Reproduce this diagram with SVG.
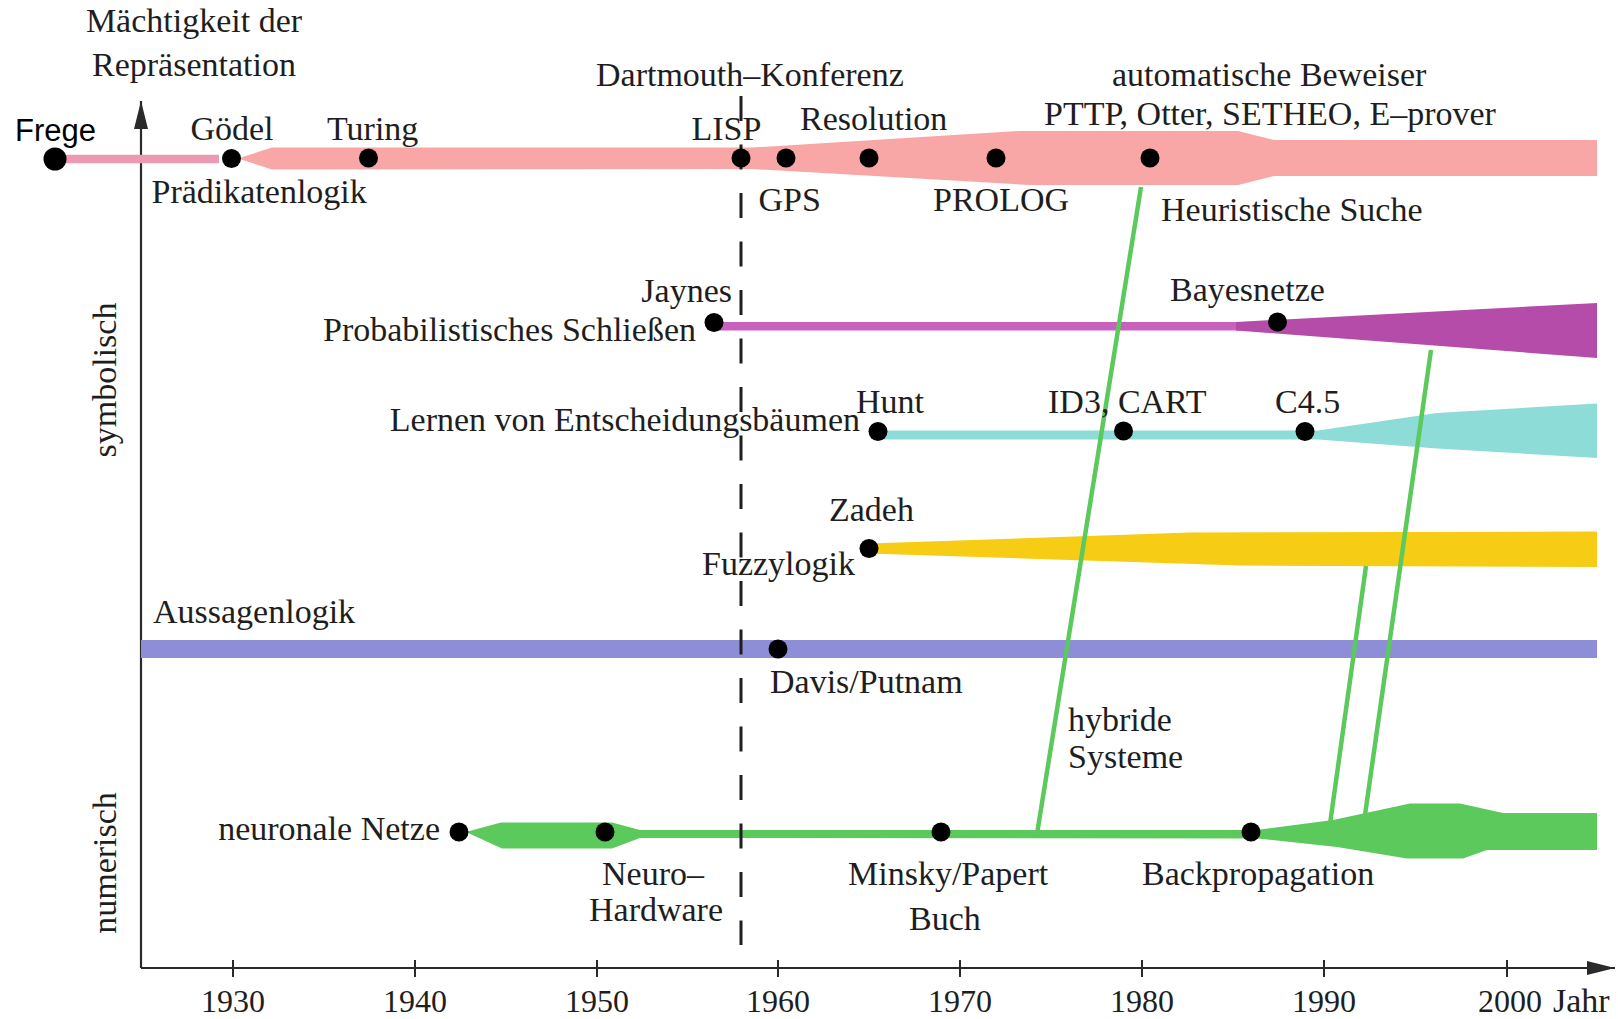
<svg xmlns="http://www.w3.org/2000/svg" width="1618" height="1019" viewBox="0 0 1618 1019">
<defs>
<marker id="arrow" markerUnits="userSpaceOnUse" markerWidth="28" markerHeight="14" refX="28" refY="7" orient="auto">
<path d="M0,0 L28,7 L0,14 Z" fill="#2a2a2a"/>
</marker>
<style>
text{font-family:"Liberation Serif","Times New Roman",serif;font-size:34px;fill:#1e1e1e}
.sans{font-family:"Liberation Sans",Arial,sans-serif;font-size:31px;fill:#000}
.yr{font-size:32px;text-anchor:middle}
.end{text-anchor:end}
.mid{text-anchor:middle}
.dot{fill:#000}
.axis{stroke:#2a2a2a;stroke-width:2.2;fill:none}
.tick{stroke:#2a2a2a;stroke-width:2}
.hyb{stroke:#5cc95c;stroke-width:4.5;fill:none}
.dash{stroke:#1e1e1e;stroke-width:3;stroke-dasharray:25 23.5;fill:none}
</style>
</defs>
<rect width="1618" height="1019" fill="#fff"/>

<g id="axes">
<line class="axis" x1="141" y1="968" x2="141" y2="101" marker-end="url(#arrow)"/>
<line class="axis" x1="141" y1="968" x2="1615" y2="968" marker-end="url(#arrow)"/>
<g class="ticks">
<line class="tick" x1="233" y1="960" x2="233" y2="977"/>
<line class="tick" x1="415" y1="960" x2="415" y2="977"/>
<line class="tick" x1="597" y1="960" x2="597" y2="977"/>
<line class="tick" x1="778" y1="960" x2="778" y2="977"/>
<line class="tick" x1="960" y1="960" x2="960" y2="977"/>
<line class="tick" x1="1142" y1="960" x2="1142" y2="977"/>
<line class="tick" x1="1324" y1="960" x2="1324" y2="977"/>
<line class="tick" x1="1507" y1="960" x2="1507" y2="977"/>
</g>
<text class="yr" x="233" y="1012">1930</text>
<text class="yr" x="415" y="1012">1940</text>
<text class="yr" x="597" y="1012">1950</text>
<text class="yr" x="778" y="1012">1960</text>
<text class="yr" x="960" y="1012">1970</text>
<text class="yr" x="1142" y="1012">1980</text>
<text class="yr" x="1324" y="1012">1990</text>
<text class="yr" x="1510" y="1012">2000</text>
<text x="1553" y="1012">Jahr</text>
<text class="mid" x="194" y="32">Mächtigkeit der</text>
<text class="mid" x="194" y="76">Repräsentation</text>
<text class="mid" transform="translate(116,380) rotate(-90)">symbolisch</text>
<text class="mid" transform="translate(116,863) rotate(-90)">numerisch</text>
</g>

<g id="bands">
<g id="band-praedikatenlogik">
<line x1="55" y1="159" x2="219" y2="159" stroke="#ec9ab2" stroke-width="8.5"/>
<path d="M238,158.5 L272,147.5 L752,147.5 L1020,131 L1238,131 L1274,140 L1597,140 L1597,176 L1274,176 L1238,185 L1030,185 L752,169 L272,169.5 Z" fill="#f8a6a6"/>
<text x="151.5" y="203">Prädikatenlogik</text>
</g>
<g id="band-probabilistisch">
<rect x="714" y="322" width="526" height="8.5" fill="#c860bd"/>
<path d="M1236,322 L1597,303 L1597,358 L1236,330.5 Z" fill="#b64ca9"/>
<text class="end" x="696" y="341">Probabilistisches Schließen</text>
</g>
<g id="band-entscheidungsbaeume">
<path d="M878,430.5 L1318,430.5 L1437,413 L1597,403.5 L1597,458 L1437,448.5 L1318,439.5 L878,439.5 Z" fill="#8edcd7"/>
<text class="end" x="860" y="431">Lernen von Entscheidungsbäumen</text>
</g>
<g id="band-fuzzy">
<path d="M869,543.5 L1190,532.5 L1597,531.5 L1597,567 L1240,565.5 L869,553.5 Z" fill="#f6cc14"/>
<text x="702" y="575">Fuzzylogik</text>
</g>
<g id="band-aussagenlogik">
<rect x="141" y="640" width="1456" height="18" fill="#8e8ed8"/>
<text x="153" y="623">Aussagenlogik</text>
</g>
<g id="band-neuronal">
<path d="M466,832 L501,822.5 L612,822.5 L640,830 L1256,830 L1333,820 L1410,803.5 L1460,803.5 L1503,813 L1597,813 L1597,850 L1487,850 L1463,858.5 L1407,858.5 L1337,847 L1258,838.5 L640,838 L612,848.5 L502,848.5 Z" fill="#5cc95c"/>
<text class="end" x="440" y="840">neuronale Netze</text>
</g>
</g>

<g id="connectors">
<line class="hyb" x1="1037" y1="834" x2="1141" y2="187"/>
<line class="hyb" x1="1330" y1="824" x2="1366" y2="566"/>
<line class="hyb" x1="1365" y1="815" x2="1431" y2="350"/>
<line id="dartmouth-line" class="dash" x1="741" y1="96" x2="741" y2="945"/>
</g>
<text x="1068" y="731">hybride</text>
<text x="1068" y="768">Systeme</text>

<g id="node-frege"><circle class="dot" cx="55" cy="159" r="11.5"/><text class="sans" x="15" y="141">Frege</text></g>
<g id="node-goedel"><circle class="dot" cx="231.5" cy="158.5" r="9.5"/><text class="mid" x="232" y="140">Gödel</text></g>
<g id="node-turing"><circle class="dot" cx="368.5" cy="158" r="9.5"/><text x="327" y="140">Turing</text></g>
<g id="node-dartmouth"><text x="596" y="86">Dartmouth–Konferenz</text></g>
<g id="node-lisp"><circle class="dot" cx="741" cy="158" r="9.5"/><text x="691.5" y="140">LISP</text></g>
<g id="node-gps"><circle class="dot" cx="786" cy="158" r="9.5"/><text x="758.5" y="211">GPS</text></g>
<g id="node-resolution"><circle class="dot" cx="869" cy="158" r="9.5"/><text x="800" y="130">Resolution</text></g>
<g id="node-prolog"><circle class="dot" cx="996" cy="158" r="9.5"/><text x="933" y="211">PROLOG</text></g>
<g id="node-beweiser"><circle class="dot" cx="1150" cy="158" r="9.5"/><text x="1112" y="86">automatische Beweiser</text><text x="1044" y="125">PTTP, Otter, SETHEO, E–prover</text><text x="1161" y="221">Heuristische Suche</text></g>
<g id="node-jaynes"><circle class="dot" cx="714" cy="322.5" r="9.5"/><text class="end" x="732" y="302">Jaynes</text></g>
<g id="node-bayes"><circle class="dot" cx="1277.5" cy="322" r="9.5"/><text x="1170" y="301">Bayesnetze</text></g>
<g id="node-hunt"><circle class="dot" cx="878" cy="431.5" r="9.5"/><text x="856" y="413">Hunt</text></g>
<g id="node-id3"><circle class="dot" cx="1123.5" cy="431" r="9.5"/><text x="1048" y="413">ID3, CART</text></g>
<g id="node-c45"><circle class="dot" cx="1305" cy="431.5" r="9.5"/><text x="1275" y="413">C4.5</text></g>
<g id="node-zadeh"><circle class="dot" cx="869" cy="548.5" r="9.5"/><text x="829" y="521">Zadeh</text></g>
<g id="node-davis"><circle class="dot" cx="778" cy="649" r="9.5"/><text x="770" y="693">Davis/Putnam</text></g>
<g id="node-neuronal"><circle class="dot" cx="459" cy="832" r="9.5"/></g>
<g id="node-neurohw"><circle class="dot" cx="605" cy="832" r="9.5"/><text x="602" y="885">Neuro–</text><text x="589" y="921">Hardware</text></g>
<g id="node-minsky"><circle class="dot" cx="941" cy="832" r="9.5"/><text x="848" y="885">Minsky/Papert</text><text x="909" y="930">Buch</text></g>
<g id="node-backprop"><circle class="dot" cx="1251" cy="832" r="9.5"/><text x="1142" y="885">Backpropagation</text></g>
</svg>
